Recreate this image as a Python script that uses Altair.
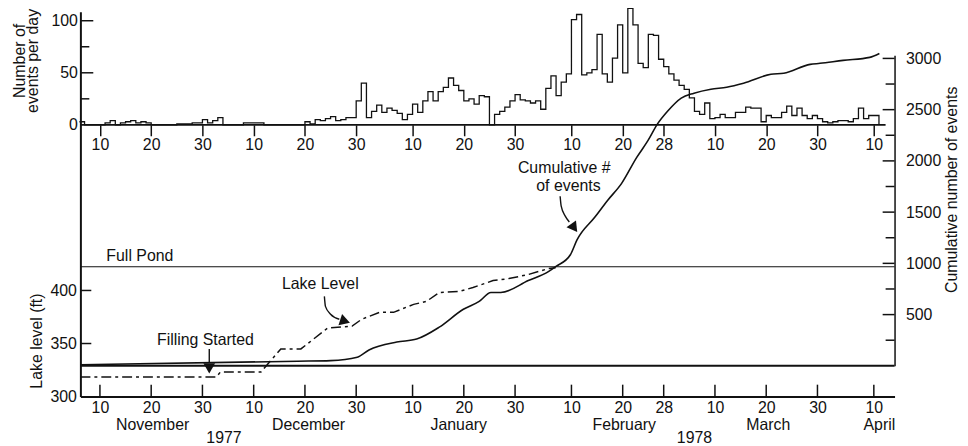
import altair as alt
import pandas as pd

FONT = "Liberation Sans"
INK = "#111111"
W, H = 821, 388

# ---------------- data ----------------
X_START = "1977-11-06T04:30:00"
X_END = "1978-04-14T01:00:00"

TICK_DATES = ["1977-11-10", "1977-11-20", "1977-11-30", "1977-12-10", "1977-12-20",
              "1977-12-30", "1978-01-10", "1978-01-20", "1978-01-30", "1978-02-10",
              "1978-02-20", "1978-02-28", "1978-03-10", "1978-03-20", "1978-03-30",
              "1978-04-10"]

# daily number of events, starting 1977-11-06
HIST_START = "1977-11-06"
NOV_COUNTS = [3, 0, 0, 0, 0, 2, 4, 0, 2, 3, 4, 2, 3, 2, 0, 0, 0, 0, 0, 1, 1, 1, 2, 2, 5]
DEC_COUNTS = [2, 4, 7, 0, 0, 0, 0, 2, 2, 2, 2, 0, 0, 0, 0, 0, 0, 0, 0, 3, 1, 5, 4, 6, 8,
              4, 5, 7, 7, 23, 40]
JAN_COUNTS = [7, 13, 19, 12, 16, 14, 11, 5, 10, 20, 12, 23, 32, 23, 32, 36, 45, 38, 33,
              23, 25, 20, 28, 27, 0, 10, 13, 17, 23, 29, 24]
FEB_COUNTS = [23, 21, 23, 15, 35, 47, 28, 41, 49, 101, 106, 48, 50, 53, 87, 49, 41, 64,
              96, 50, 112, 96, 59, 55, 87, 86, 63, 56]
MAR_COUNTS = [49, 43, 38, 34, 26, 13, 10, 21, 6, 7, 10, 7, 7, 12, 12, 17, 16, 16, 3, 9,
              7, 7, 12, 18, 9, 16, 9, 6, 9, 6, 3]
APR_COUNTS = [2, 3, 4, 4, 3, 6, 16, 6, 9, 9]

CUM_DATES = ["1977-11-06T05:00", "1977-12-18T14:00", "1977-12-25T00:00", "1977-12-30T05:00",
             "1978-01-01T12:00", "1978-01-06T22:00", "1978-01-10T19:00", "1978-01-15T05:00",
             "1978-01-19T22:00", "1978-01-23T00:00", "1978-01-25T07:00", "1978-01-27T05:00",
             "1978-02-01T14:00", "1978-02-05T12:00", "1978-02-06T22:00", "1978-02-09T19:00",
             "1978-02-11T02:00", "1978-02-14T14:00", "1978-02-17T02:00", "1978-02-19T19:00",
             "1978-02-22T17:00", "1978-02-24T22:00", "1978-02-26T19:00", "1978-02-28T19:00",
             "1978-03-03T10:00", "1978-03-05T22:00", "1978-03-09T05:00", "1978-03-12T07:00",
             "1978-03-15T14:00", "1978-03-20T22:00", "1978-03-23T10:00", "1978-03-28T14:00",
             "1978-03-30T12:00", "1978-04-04T00:00", "1978-04-09T05:00", "1978-04-11T02:00"]
CUM_VALUES = [10, 45, 51, 84, 155, 232, 261, 377, 552, 629, 716, 716, 832, 919, 968, 1084,
              1229, 1452, 1616, 1781, 2032, 2197, 2361, 2487, 2613, 2661, 2700, 2719, 2758,
              2845, 2855, 2942, 2952, 2981, 3010, 3048]

LAKE_DATES = ["1977-11-06T05:00", "1977-12-02T17:00", "1977-12-03T12:00", "1977-12-11T10:00",
              "1977-12-15T07:00", "1977-12-19T05:00", "1977-12-24T10:00", "1977-12-29T05:00",
              "1977-12-31T02:00", "1978-01-03T14:00", "1978-01-06T07:00", "1978-01-10T05:00",
              "1978-01-12T17:00", "1978-01-15T05:00", "1978-01-19T02:00", "1978-01-21T19:00",
              "1978-01-25T17:00", "1978-01-28T19:00", "1978-02-01T14:00", "1978-02-05T12:00",
              "1978-02-06T22:00"]
LAKE_LEVELS = [318.4, 318.4, 323.1, 323.1, 344.9, 344.9, 364.5, 366.4, 372.9, 379.4, 379.4,
               386.9, 389.7, 398.1, 399.1, 402.8, 409.3, 411.2, 415.0, 420.6, 421.5]

FULL_POND = 422.4
HIST_BASE_END = "1978-04-12T07:00"

HIST_LABELS = [0, 50, 100]
HIST_MAJOR = [50, 100]
HIST_MINOR = [25, 75]
LAKE_LABELS = [300, 350, 400]
LAKE_TICKS = [350, 400]
CUM_LABELS = [500, 1000, 1500, 2000, 2500, 3000]
CUM_MINOR = [250, 750, 1250, 1750, 2250, 2750]

LAKE_NOTES = ["Full Pond", "Lake Level", "Filling Started"]
LAKE_NOTE_DATES = ["1977-11-17T19:00", "1977-12-23T00:00", "1977-11-30T14:00"]
LAKE_NOTE_LEVELS = [432.7, 405.6, 353.3]

CUM_NOTES = ["Cumulative #", "of events"]
CUM_NOTE_DATES = ["1978-02-08T14:00", "1978-02-09T10:00"]
CUM_NOTE_VALUES = [1935, 1752]

LAKE_ARROW_DATES = ["1977-12-23T19:00", "1977-12-24T00:00", "1977-12-25T00:00", "1977-12-26T17:00"]
LAKE_ARROW_LEVELS = [394.4, 385.0, 377.6, 372.9]
LAKE_HEAD = ("1977-12-27T20:00", 371.0, 18)
FILL_ARROW = ("1977-12-01T08:00", 344.9, 331.8)
FILL_HEAD = ("1977-12-01T08:00", 326.6, 90)
CUM_ARROW_DATES = ["1978-02-07T19:00", "1978-02-08T00:00", "1978-02-08T19:00", "1978-02-09T14:00"]
CUM_ARROW_VALUES = [1655, 1558, 1461, 1403]
CUM_HEAD = ("1978-02-10T13:00", 1345, 54)

MONTHS = ["November", "December", "January", "February", "March", "April"]
MONTH_DATES = ["1977-11-20T07:00", "1977-12-20T17:00", "1978-01-19T00:00",
               "1978-02-20T07:00", "1978-03-20T10:00", "1978-04-11T02:00"]
YEARS = ["1977", "1978"]
YEAR_DATES = ["1977-12-04T05:00", "1978-03-06T00:00"]


# ---------------- helpers ----------------
def iso(s):
    return pd.Timestamp(s).strftime("%Y-%m-%dT%H:%M:%S")


def dt(s):
    t = pd.Timestamp(s)
    return alt.DateTime(year=t.year, month=t.month, date=t.day, hours=t.hour, minutes=t.minute)


XS = alt.Scale(domain=[dt(X_START), dt(X_END)], nice=False)
HIST_S = alt.Scale(domain=[0, 100], range=[114, 9], nice=False, zero=False)
LAKE_S = alt.Scale(domain=[300, 662.6], range=[388, 0], nice=False, zero=False)
CUM_S = alt.Scale(domain=[0, 3030], range=[357, 43.9], nice=False, zero=False)
TICK_DT = [dt(d) for d in TICK_DATES]


def X(field="date", axis=None):
    return alt.X(f"{field}:T", scale=XS, axis=axis, title=None)


def Y(field, scale, axis=None):
    return alt.Y(f"{field}:Q", scale=scale, axis=axis, title=None)


counts = NOV_COUNTS + DEC_COUNTS + JAN_COUNTS + FEB_COUNTS + MAR_COUNTS + APR_COUNTS
hist_dates = pd.date_range(HIST_START, periods=len(counts) + 1, freq="D")
hist_df = pd.DataFrame({"date": [d.strftime("%Y-%m-%dT%H:%M:%S") for d in hist_dates],
                        "count": counts + [0]})
cum_df = pd.DataFrame({"date": [iso(d) for d in CUM_DATES], "cum": CUM_VALUES})
lake_df = pd.DataFrame({"date": [iso(d) for d in LAKE_DATES], "level": LAKE_LEVELS})

# ---------------- axes ----------------
top_x_axis = alt.Axis(orient="bottom", offset=-(H - 114), values=TICK_DT, format="%d",
                      tickSize=11, tickWidth=1.5, domain=False, grid=False,
                      labelPadding=1, labelFlush=False, labelOverlap=False)
bottom_x_axis = alt.Axis(orient="bottom", values=TICK_DT, format="%d", ticks=False,
                         domain=True, domainWidth=2, grid=False, labelPadding=3,
                         labelFlush=False, labelOverlap=False)
hist_axis = alt.Axis(orient="left", values=HIST_LABELS, ticks=False, domain=False, grid=False,
                     labelPadding=3, format="d", title=["Number of", "events per day"],
                     titleAngle=270, titleX=-56, titleY=49, titleAlign="center",
                     titleBaseline="alphabetic", titleLineHeight=13)
lake_axis = alt.Axis(orient="left", values=LAKE_LABELS, ticks=False, domain=True,
                     domainWidth=2, grid=False, labelPadding=4, format="d",
                     title="Lake level (ft)", titleAngle=270, titleX=-39, titleY=331.5,
                     titleAlign="center", titleBaseline="alphabetic")
cum_axis = alt.Axis(orient="right", values=CUM_LABELS, ticks=False, domain=True,
                    domainWidth=1.5, grid=False, labelPadding=11, format="d",
                    title="Cumulative number of events", titleAngle=270, titleX=62,
                    titleY=179, titleAlign="center", titleBaseline="alphabetic")

# ---------------- layers ----------------
hist = alt.Chart(hist_df).mark_line(interpolate="step-after", color=INK, strokeWidth=1.3).encode(
    x=X("date", top_x_axis), y=Y("count", HIST_S, hist_axis))

hist_base = alt.Chart(pd.DataFrame({"d0": [iso(X_START)], "d1": [iso(HIST_BASE_END)], "v": [0]})
                      ).mark_rule(color=INK, strokeWidth=1.6).encode(
    x=X("d0"), x2="d1:T", y=Y("v", HIST_S))

hist_major = alt.Chart(pd.DataFrame({"v": HIST_MAJOR})).mark_rule(color=INK, strokeWidth=1.5).encode(
    y=Y("v", HIST_S), x=alt.value(0), x2=alt.value(13))
hist_minor = alt.Chart(pd.DataFrame({"v": HIST_MINOR})).mark_rule(color=INK, strokeWidth=1.5).encode(
    y=Y("v", HIST_S), x=alt.value(0), x2=alt.value(9))

lake = alt.Chart(lake_df).mark_line(color=INK, strokeWidth=1.5, strokeDash=[10, 4, 3, 4]).encode(
    x=X("date", bottom_x_axis), y=Y("level", LAKE_S, lake_axis))

lake_ticks = alt.Chart(pd.DataFrame({"v": LAKE_TICKS})).mark_rule(color=INK, strokeWidth=1.5).encode(
    y=Y("v", LAKE_S), x=alt.value(0), x2=alt.value(11))

pond = alt.Chart(pd.DataFrame({"v": [FULL_POND]})).mark_rule(color=INK, strokeWidth=1.1).encode(
    y=Y("v", LAKE_S))

bottom_ticks = alt.Chart(pd.DataFrame({"date": [iso(d) for d in TICK_DATES]})).mark_rule(
    color=INK, strokeWidth=1.5).encode(x=X("date"), y=alt.value(H - 12), y2=alt.value(H))

cum = alt.Chart(cum_df).mark_line(color=INK, strokeWidth=1.6, interpolate="monotone").encode(
    x=X("date"), y=Y("cum", CUM_S, cum_axis))

cum_zero = alt.Chart(pd.DataFrame({"v": [0]})).mark_rule(color=INK, strokeWidth=2).encode(
    y=Y("v", CUM_S))
cum_major = alt.Chart(pd.DataFrame({"v": CUM_LABELS})).mark_rule(color=INK, strokeWidth=1.5).encode(
    y=Y("v", CUM_S), x=alt.value(W - 12), x2=alt.value(W))
cum_minor = alt.Chart(pd.DataFrame({"v": CUM_MINOR})).mark_rule(color=INK, strokeWidth=1.5).encode(
    y=Y("v", CUM_S), x=alt.value(W - 9), x2=alt.value(W))

lake_notes = alt.Chart(pd.DataFrame({"t": LAKE_NOTES, "date": [iso(d) for d in LAKE_NOTE_DATES],
                                     "v": LAKE_NOTE_LEVELS})).mark_text(
    font=FONT, fontSize=16, color=INK, align="center", baseline="middle").encode(
    x=X("date"), y=Y("v", LAKE_S), text="t:N")

cum_notes = alt.Chart(pd.DataFrame({"t": CUM_NOTES, "date": [iso(d) for d in CUM_NOTE_DATES],
                                    "v": CUM_NOTE_VALUES})).mark_text(
    font=FONT, fontSize=16, color=INK, align="center", baseline="middle").encode(
    x=X("date"), y=Y("v", CUM_S), text="t:N")

lake_arrow = alt.Chart(pd.DataFrame({"date": [iso(d) for d in LAKE_ARROW_DATES],
                                     "v": LAKE_ARROW_LEVELS})).mark_line(
    color=INK, strokeWidth=1.4, interpolate="monotone").encode(x=X("date"), y=Y("v", LAKE_S))
fill_arrow = alt.Chart(pd.DataFrame({"date": [iso(FILL_ARROW[0])], "v": [FILL_ARROW[1]],
                                     "v2": [FILL_ARROW[2]]})).mark_rule(
    color=INK, strokeWidth=1.4).encode(x=X("date"), y=Y("v", LAKE_S), y2="v2:Q")
lake_heads = alt.Chart(pd.DataFrame({"date": [iso(LAKE_HEAD[0]), iso(FILL_HEAD[0])],
                                     "v": [LAKE_HEAD[1], FILL_HEAD[1]],
                                     "a": [LAKE_HEAD[2], FILL_HEAD[2]]})).mark_point(
    shape="triangle-right", filled=True, color=INK, opacity=1, size=140).encode(
    x=X("date"), y=Y("v", LAKE_S), angle=alt.Angle("a:Q", scale=None))

cum_arrow = alt.Chart(pd.DataFrame({"date": [iso(d) for d in CUM_ARROW_DATES],
                                    "v": CUM_ARROW_VALUES})).mark_line(
    color=INK, strokeWidth=1.4, interpolate="monotone").encode(x=X("date"), y=Y("v", CUM_S))
cum_head = alt.Chart(pd.DataFrame({"date": [iso(CUM_HEAD[0])], "v": [CUM_HEAD[1]],
                                   "a": [CUM_HEAD[2]]})).mark_point(
    shape="triangle-right", filled=True, color=INK, opacity=1, size=140).encode(
    x=X("date"), y=Y("v", CUM_S), angle=alt.Angle("a:Q", scale=None))

months = alt.Chart(pd.DataFrame({"t": MONTHS, "date": [iso(d) for d in MONTH_DATES]})).mark_text(
    font=FONT, fontSize=16, color=INK, align="center", baseline="alphabetic").encode(
    x=X("date"), y=alt.value(421.7), text="t:N")
years = alt.Chart(pd.DataFrame({"t": YEARS, "date": [iso(d) for d in YEAR_DATES]})).mark_text(
    font=FONT, fontSize=16, color=INK, align="center", baseline="alphabetic").encode(
    x=X("date"), y=alt.value(435), text="t:N")

chart = alt.layer(
    hist, lake, cum, hist_base, hist_major, hist_minor, lake_ticks, pond, bottom_ticks,
    cum_zero, cum_major, cum_minor, lake_notes, cum_notes, lake_arrow, fill_arrow,
    lake_heads, cum_arrow, cum_head, months, years
).resolve_scale(y="independent").resolve_axis(x="independent", y="independent").properties(
    width=W, height=H,
    padding={"left": 73, "top": 2, "right": 66, "bottom": 48},
    autosize=alt.AutoSizeParams(type="none"),
    background="white",
).configure_view(strokeWidth=0).configure_axis(
    labelFont=FONT, titleFont=FONT, labelFontSize=16, titleFontSize=16,
    labelColor=INK, titleColor=INK, titleFontWeight="normal", domainColor=INK,
    tickColor=INK, grid=False)

chart.save("out.html", embed_options={"renderer": "svg", "actions": False})
